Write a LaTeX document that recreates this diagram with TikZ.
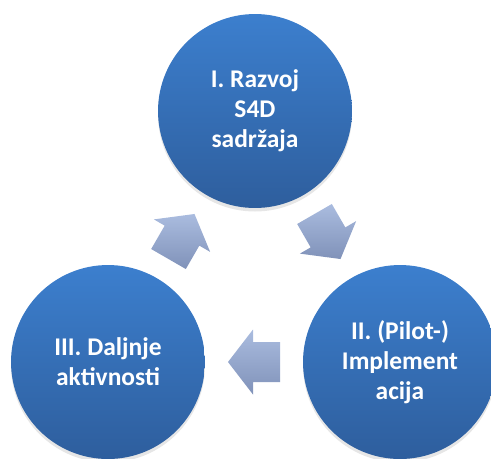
\documentclass[tikz,border=0pt]{standalone}
\usepackage{fontspec}
\setmainfont{Carlito}
\usetikzlibrary{calc,shadows}

\definecolor{phaseTop}{HTML}{3C7FCE}
\definecolor{phaseBot}{HTML}{2E5E9D}
\definecolor{arrowTop}{HTML}{AABCDF}
\definecolor{arrowBot}{HTML}{8092B9}

\begin{document}
\begin{tikzpicture}[
                    x=0.02cm,
                    y=-0.02cm,
                    font=\bfseries\fontsize{14.5}{17}\selectfont
                ]
                \tikzstyle{phase}=[circle,minimum size=3.88cm,inner sep=0pt,align=center,
                    text=white,top color=phaseTop,bottom color=phaseBot,
                    drop shadow={opacity=0.2,shadow xshift=0pt,shadow yshift=-2pt}]
                \tikzstyle{cycle arrow}=[top color=arrowTop,bottom color=arrowBot,x=0.02cm,y=0.02cm]

                \useasboundingbox (0,0) rectangle (491,458);
                \clip (0,0) rectangle (491,458);

                \node[phase] (dev)  at (255,111) {I. Razvoj\\S4D\\sadržaja};
                \node[phase] (impl) at (400,362) {II. (Pilot-)\\Implement\\acija};
                \node[phase] (next) at (108,362) {III. Daljnje\\aktivnosti};

                \coordinate (a1) at ($(dev)!0.5!(impl)$);
                \coordinate (a2) at ($(impl)!0.5!(next)$);
                \coordinate (a3) at ($(next)!0.5!(dev)$);

                \foreach \pos/\ang in {a1/-60,a2/180,a3/60}
                {
                    \begin{scope}[shift={(\pos)},rotate=\ang]
                        \shade[cycle arrow] (-26,-20) -- (1,-20) -- (1,-32.5) -- (26,0)
                            -- (1,32.5) -- (1,20) -- (-26,20) -- cycle;
                    \end{scope}
                }
            \end{tikzpicture}
\end{document}
